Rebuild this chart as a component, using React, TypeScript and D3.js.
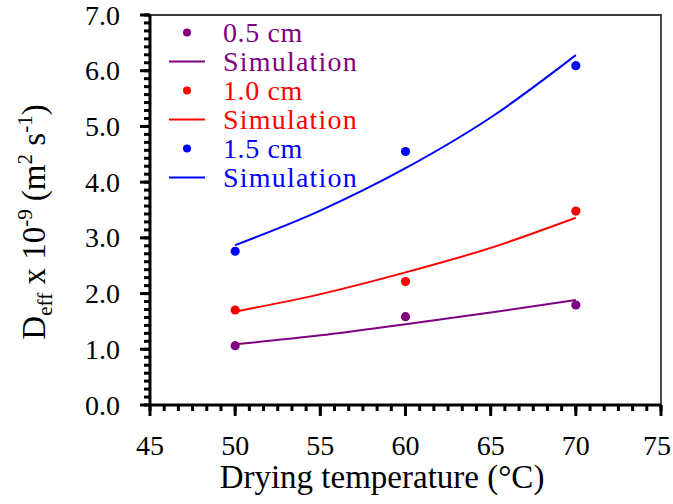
import React, { useEffect, useRef } from "react";
import * as d3 from "d3";

// measured points (drying temperature, Deff x 1e-9)
const temps = [50, 60, 70];
const pts05 = [1.065, 1.585, 1.795];
const pts10 = [1.705, 2.215, 3.48];
const pts15 = [2.76, 4.55, 6.09];

// simulation curves
const simTemps = [50, 55, 60, 65, 70];
const sim05 = [1.09, 1.25, 1.45, 1.66, 1.885];
const sim10 = [1.675, 1.99, 2.38, 2.82, 3.36];
const sim15 = [2.87, 3.49, 4.25, 5.16, 6.28];

const xTicks = [45, 50, 55, 60, 65, 70, 75];
const yTicks = [0, 1, 2, 3, 4, 5, 6, 7];

const seriesNames = ["0.5 cm", "1.0 cm", "1.5 cm"];
const colors = ["#800080", "#ff0000", "#0000ff"];

const App = () => {
  const ref = useRef<SVGSVGElement>(null);

  useEffect(() => {
    const width = 673;
    const height = 504;
    const left = 150;
    const right = 661;
    const top = 15;
    const bottom = 405;
    const font = "'Liberation Serif', 'Times New Roman', serif";

    const svg = d3.select(ref.current);
    svg.selectAll("*").remove();
    svg.attr("width", width).attr("height", height);

    const x = d3.scaleLinear().domain([45, 75]).range([left, right]);
    const y = d3.scaleLinear().domain([0, 7]).range([bottom, top]);

    // frame (top + right)
    svg
      .append("path")
      .attr("d", `M${left},${top}H${right}V${bottom}`)
      .attr("fill", "none")
      .attr("stroke", "#3a3a3a")
      .attr("stroke-width", 1.8);

    // minor ticks: 6 steps per 5 degC, 7 steps per unit
    const xMinor = d3.range(0, 37).map((i) => 45 + (i * 5) / 6);
    const yMinor = d3.range(0, 50).map((i) => i / 7);

    const ticks = svg.append("g").attr("stroke", "#000").attr("stroke-width", 3);
    ticks
      .selectAll("line.xm")
      .data(xMinor)
      .enter()
      .append("line")
      .attr("x1", (d) => x(d))
      .attr("x2", (d) => x(d))
      .attr("y1", bottom)
      .attr("y2", bottom + 6);
    ticks
      .selectAll("line.xM")
      .data(xTicks)
      .enter()
      .append("line")
      .attr("x1", (d) => x(d))
      .attr("x2", (d) => x(d))
      .attr("y1", bottom)
      .attr("y2", bottom + 11);
    ticks
      .selectAll("line.ym")
      .data(yMinor)
      .enter()
      .append("line")
      .attr("y1", (d) => y(d))
      .attr("y2", (d) => y(d))
      .attr("x1", left)
      .attr("x2", left - 6);
    ticks
      .selectAll("line.yM")
      .data(yTicks)
      .enter()
      .append("line")
      .attr("y1", (d) => y(d))
      .attr("y2", (d) => y(d))
      .attr("x1", left)
      .attr("x2", left - 10);

    // axis lines
    svg
      .append("path")
      .attr("d", `M${left},${top}V${bottom}H${right}`)
      .attr("fill", "none")
      .attr("stroke", "#000")
      .attr("stroke-width", 3);

    // tick labels
    svg
      .append("g")
      .selectAll("text")
      .data(xTicks)
      .enter()
      .append("text")
      .attr("x", (d) => Math.min(x(d), width - 16))
      .attr("y", 455)
      .attr("text-anchor", "middle")
      .attr("font-family", font)
      .attr("font-size", 28)
      .text((d) => String(d));
    svg
      .append("g")
      .selectAll("text")
      .data(yTicks)
      .enter()
      .append("text")
      .attr("x", 120)
      .attr("y", (d) => y(d) + 9.5)
      .attr("text-anchor", "end")
      .attr("font-family", font)
      .attr("font-size", 28)
      .text((d) => d3.format(".1f")(d));

    const line = d3
      .line<number>()
      .x((d, i) => x(simTemps[i]))
      .y((d) => y(d))
      .curve(d3.curveMonotoneX);

    const sims = [sim05, sim10, sim15];
    const pts = [pts05, pts10, pts15];

    sims.forEach((s, k) => {
      svg
        .append("path")
        .attr("d", line(s))
        .attr("fill", "none")
        .attr("stroke", colors[k])
        .attr("stroke-width", 2);
    });

    pts.forEach((p, k) => {
      svg
        .append("g")
        .selectAll("circle")
        .data(p)
        .enter()
        .append("circle")
        .attr("cx", (d, i) => x(temps[i]))
        .attr("cy", (d) => y(d))
        .attr("r", 4.6)
        .attr("fill", colors[k]);
    });

    // legend
    const lg = svg.append("g");
    seriesNames.forEach((name, k) => {
      const cy1 = 32.5 + k * 58;
      const cy2 = cy1 + 29;
      lg.append("circle").attr("cx", 187).attr("cy", cy1).attr("r", 4).attr("fill", colors[k]);
      lg.append("text")
        .attr("x", 223)
        .attr("y", cy1 + 9)
        .attr("font-family", font)
        .attr("font-size", 28)
        .attr("letter-spacing", 0.6)
        .attr("fill", colors[k])
        .text(name);
      lg.append("line")
        .attr("x1", 169)
        .attr("x2", 205)
        .attr("y1", cy2)
        .attr("y2", cy2)
        .attr("stroke", colors[k])
        .attr("stroke-width", 2);
      lg.append("text")
        .attr("x", 223)
        .attr("y", cy2 + 9)
        .attr("font-family", font)
        .attr("font-size", 28)
        .attr("letter-spacing", 1.2)
        .attr("fill", colors[k])
        .text("Simulation");
    });

    // x title
    svg
      .append("text")
      .attr("x", 382)
      .attr("y", 488)
      .attr("text-anchor", "middle")
      .attr("font-family", font)
      .attr("font-size", 33)
      .attr("fill", "#000")
      .text("Drying temperature (°C)");

    // y title
    const yt = svg
      .append("text")
      .attr("transform", "translate(45,222) rotate(-90)")
      .attr("text-anchor", "middle")
      .attr("font-family", font)
      .attr("font-size", 33)
      .attr("fill", "#000");
    yt.append("tspan").text("D");
    yt.append("tspan").attr("font-size", 21).attr("dy", 7).text("eff");
    yt.append("tspan").attr("dy", -7).text(" x 10");
    yt.append("tspan").attr("font-size", 21).attr("dy", -13).text("-9");
    yt.append("tspan").attr("dy", 13).text(" (m");
    yt.append("tspan").attr("font-size", 21).attr("dy", -13).text("2");
    yt.append("tspan").attr("dy", 13).text(" s");
    yt.append("tspan").attr("font-size", 21).attr("dy", -13).text("-1");
    yt.append("tspan").attr("dy", 13).text(")");
  }, []);

  return (
    <div style={{ position: "absolute", left: 0, top: 0 }}>
      <svg ref={ref} style={{ display: "block", background: "#fff" }}></svg>
    </div>
  );
};

export default App;
